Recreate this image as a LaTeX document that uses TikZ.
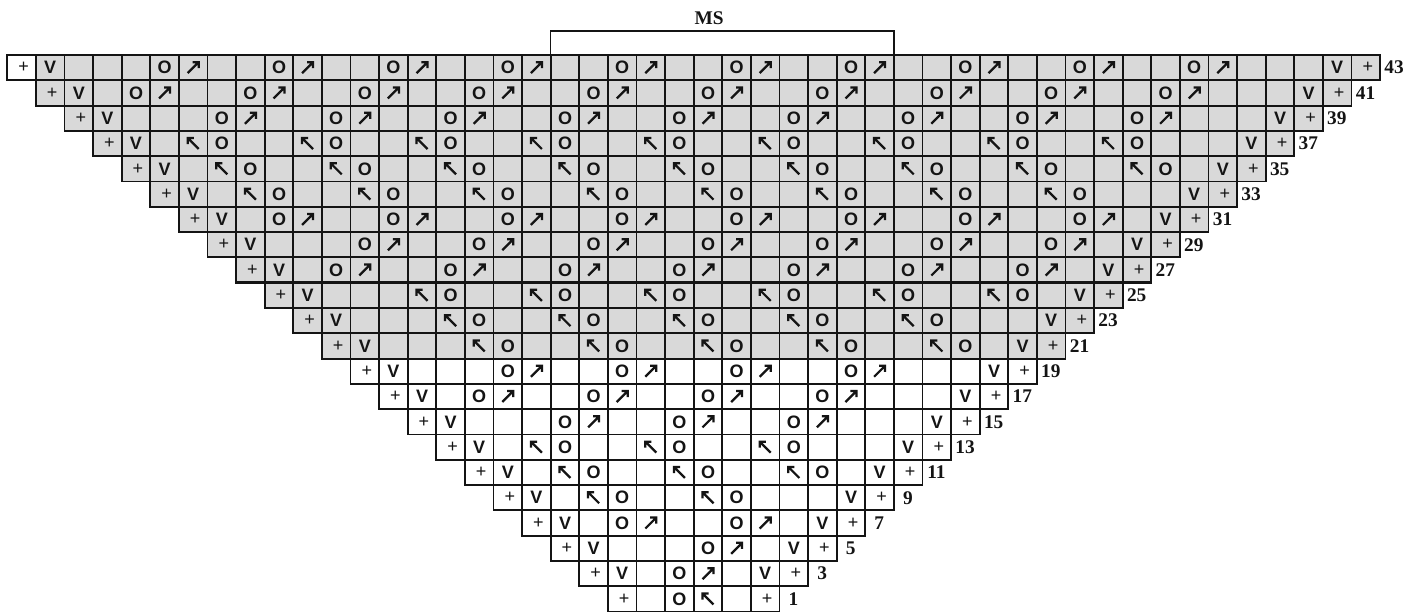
\documentclass[tikz,border=0pt]{standalone}
\usepackage{fontspec}
\setmainfont{Liberation Serif}
\setsansfont{Liberation Sans}
\usetikzlibrary{calc}

\definecolor{ChartGray}{HTML}{D9D9D9}
\definecolor{GridInk}{HTML}{141414}

\newcommand{\cellw}{28.6}
\newcommand{\rowh}{25.3}
\newcommand{\xzero}{7.3}

\begin{document}
\begin{tikzpicture}[x=0.75pt, y=0.75pt,
  cell/.style={draw=GridInk, line width=1.4pt, rectangle, inner sep=0pt,
    outer sep=0pt, minimum width=21.45pt, minimum height=18.98pt},
  letter/.style={font={\sffamily\bfseries\fontsize{13.5}{13}\selectfont},
    inner sep=0pt, text=GridInk},
  plus/.style={font={\sffamily\fontsize{13.5}{13}\selectfont},
    inner sep=0pt, text=GridInk, xshift=1.5pt},
  rowlabel/.style={font={\bfseries\fontsize{14.5}{14}\selectfont},
    inner sep=0pt, text=GridInk},
  upright/.pic={\draw[draw=GridInk, line width=1.7pt, line join=miter]
    (-5.5,-5.5) -- (5.5,5.5) (-0.6,5.5) -- (5.5,5.5) -- (5.5,-0.6);},
  upleft/.pic={\draw[draw=GridInk, line width=1.7pt, line join=miter]
    (5.5,-5.5) -- (-5.5,5.5) (0.6,5.5) -- (-5.5,5.5) -- (-5.5,-0.6);}
]
\useasboundingbox (0,0.6) rectangle (1422,611.6);

% rows 1..43, one row of cells per odd row number
\foreach \k in {0,...,21}{
  \pgfmathtruncatemacro{\cfirst}{21-\k}
  \pgfmathtruncatemacro{\clast}{26+\k}
  \pgfmathtruncatemacro{\rownum}{2*\k+1}
  \ifnum\k>9 \def\shade{ChartGray}\else\def\shade{white}\fi
  \foreach \c in {\cfirst,...,\clast}{
    \ifnum\c=0 \def\cellfill{white}\else\let\cellfill\shade\fi
    \node[cell, fill=\cellfill] (cell-\k-\c)
      at ({\xzero+(\c+0.5)*\cellw},{(\k+0.5)*\rowh}) {};
  }
  \node[plus] (pl-\k) at (cell-\k-\cfirst) {+};
  \node[plus] (pr-\k) at (cell-\k-\clast) {+};
  \ifnum\k>0
    \pgfmathtruncatemacro{\vl}{\cfirst+1}
    \pgfmathtruncatemacro{\vr}{\clast-1}
    \node[letter] (vl-\k) at (cell-\k-\vl) {V};
    \node[letter] (vr-\k) at (cell-\k-\vr) {V};
  \fi
  \node[rowlabel] (num-\k)
    at ({\xzero+(\clast+1)*\cellw+14},{(\k+0.5)*\rowh}) {\rownum};
}

% heavier rule under row 27
\draw[GridInk, line width=2pt] (cell-13-8.south west) -- (cell-13-39.south east);

% yarn-over pairs: row / kind / first column / repeats
\foreach \k/\kind/\cstart/\reps in {21/R/5/10, 20/R/4/10, 19/R/7/9,
    18/L/6/9, 17/L/7/9, 16/L/8/8, 15/R/9/8, 14/R/12/7, 13/R/11/7,
    12/L/14/6, 11/L/15/5, 10/L/16/5, 9/R/17/4, 8/R/16/4, 7/R/19/3,
    6/L/18/3, 5/L/19/3, 4/L/20/2, 3/R/21/2, 2/R/24/1, 1/R/23/1}{
  \foreach \j in {1,...,\reps}{
    \pgfmathtruncatemacro{\ca}{\cstart+4*(\j-1)}
    \pgfmathtruncatemacro{\cb}{\ca+1}
    \if\kind R
      \node[letter] (o-\k-\ca) at (cell-\k-\ca) {O};
      \pic at (cell-\k-\cb) {upright};
    \else
      \pic at (cell-\k-\ca) {upleft};
      \node[letter] (o-\k-\cb) at (cell-\k-\cb) {O};
    \fi
  }
}
\node[letter] (o-0-23) at (cell-0-23) {O};
\pic at (cell-0-24) {upleft};

% MS bracket
\coordinate (msL) at ({\xzero+19*\cellw},{22*\rowh});
\coordinate (msR) at ({\xzero+31*\cellw},{22*\rowh});
\draw[GridInk, line width=1.1pt] (msL) -- ++(0,24) -| (msR);
\node[rowlabel] (ms) at (709,593.6) {MS};

\end{tikzpicture}
\end{document}
